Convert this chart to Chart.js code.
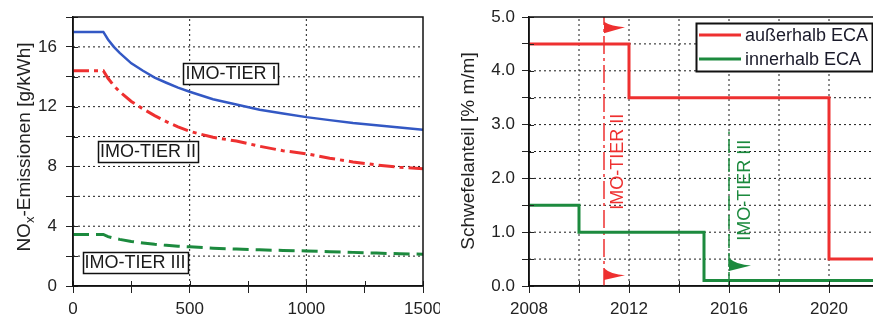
<!DOCTYPE html>
<html><head><meta charset="utf-8">
<script src="https://cdn.jsdelivr.net/npm/chart.js@4.4.1/dist/chart.umd.min.js"></script>
<style>
html,body{margin:0;padding:0;background:#fff;overflow:hidden;width:873px;height:321px;}
#wrapL{position:absolute;left:0;top:0;width:440px;height:321px;}
#wrapR{position:absolute;left:440px;top:0;width:460px;height:321px;}
canvas{display:block;}
</style></head><body>
<div id="wrapL"><canvas id="cL" width="440" height="321" style="width:440px;height:321px"></canvas></div>
<div id="wrapR"><canvas id="cR" width="460" height="321" style="width:460px;height:321px"></canvas></div>
<script>
// ---- Left chart data: NOx limits vs engine speed ----
const rpm      = [0, 130, 150, 175, 200, 250, 300, 350, 400, 450, 500, 600, 700, 800, 900, 1000, 1100, 1200, 1300, 1400, 1500];
const tierI    = [17.0, 17.0, 16.5, 16.0, 15.6, 14.9, 14.4, 13.95, 13.6, 13.27, 13.0, 12.5, 12.15, 11.8, 11.55, 11.3, 11.1, 10.9, 10.75, 10.6, 10.45];
const tierII   = [14.4, 14.4, 13.9, 13.4, 13.0, 12.35, 11.85, 11.4, 11.0, 10.65, 10.35, 9.95, 9.7, 9.35, 9.05, 8.85, 8.55, 8.3, 8.1, 7.95, 7.85];
const tierIII  = [3.45, 3.45, 3.3, 3.2, 3.12, 2.98, 2.88, 2.79, 2.72, 2.66, 2.62, 2.53, 2.47, 2.42, 2.38, 2.35, 2.3, 2.25, 2.2, 2.16, 2.13];
const tierNames = ['IMO-TIER I', 'IMO-TIER II', 'IMO-TIER III'];
const noxGrid  = [2, 4, 6, 8, 10, 12, 14, 16];
const rpmGrid  = [500, 1000];

// ---- Right chart data: sulphur content limits ----
const yearsOutside  = [2008, 2012, 2020, 2022];
const sulfurOutside = [4.5, 3.5, 0.5, 0.5];
const yearsInside   = [2008, 2010, 2015, 2022];
const sulfurInside  = [1.5, 1.0, 0.1, 0.1];
const seriesNames   = ['außerhalb ECA', 'innerhalb ECA'];
const tierIIYear  = 2011;
const tierIIIYear = 2016;
const xTickLabelsRight = [2008, 2012, 2016, 2020];
const sulfurGrid = [0.5, 1.0, 1.5, 2.0, 2.5, 3.0, 3.5, 4.0, 4.5];
const yearGrid   = [2010, 2012, 2014, 2016, 2018, 2020];

const FONT = "'Liberation Sans', Arial, Helvetica, sans-serif";
Chart.defaults.font.family = FONT;
Chart.defaults.animation = false;

const RED = '#ee3030', BLUE = '#3358c4', GREEN = '#1c8a3e', INK = '#222';

function pts(xs, ys){ return xs.map((x,i)=>({x:x, y:ys[i]})); }

// dotted grid lines drawn through the library as background line elements
function gridSets(hVals, xMin, xMax, vVals, yMin, yMax){
  const base = { borderColor: '#1a1a1a', borderWidth: 1, borderDash: [2,3], pointRadius: 0, fill: false, order: 50, tension: 0 };
  const out = [];
  hVals.forEach(v => out.push(Object.assign({ label: 'grid', data: [{x: xMin, y: v}, {x: xMax, y: v}] }, base)));
  vVals.forEach(v => out.push(Object.assign({ label: 'grid', data: [{x: v, y: yMin}, {x: v, y: yMax}] }, base)));
  return out;
}

function stepsOf(scale){
  const st = scale.options.ticks.stepSize, out = [];
  for (let k = 0; scale.min + k*st <= scale.max + 1e-9; k++) out.push(scale.min + k*st);
  return out;
}

function frameAndTicks(chart){
  const ctx = chart.ctx, a = chart.chartArea, x = chart.scales.x, y = chart.scales.y;
  ctx.save();
  ctx.fillStyle = INK;
  stepsOf(y).forEach(v=>{ const py = Math.round(y.getPixelForValue(v)); ctx.fillRect(a.left, py, 5, 1); });
  stepsOf(x).forEach(v=>{ const px = Math.round(x.getPixelForValue(v)); ctx.fillRect(px, a.bottom - 5, 1, 5); });
  ctx.setLineDash([]);
  ctx.strokeStyle = '#111'; ctx.lineWidth = 1.5;
  ctx.strokeRect(a.left, a.top, a.right-a.left, a.bottom-a.top);
  ctx.restore();
}

function boxedLabel(ctx, text, cx, cy){
  ctx.save();
  ctx.font = '18px ' + FONT;
  const w = ctx.measureText(text).width, h = 21;
  const bx = Math.round(cx - w/2 - 2) + 0.5, by = Math.round(cy - h/2) + 0.5;
  ctx.fillStyle = '#fff'; ctx.fillRect(bx, by, w+4, h);
  ctx.strokeStyle = '#111'; ctx.lineWidth = 1.5; ctx.setLineDash([]); ctx.strokeRect(bx, by, w+4, h);
  ctx.fillStyle = '#1a1a1a'; ctx.textAlign = 'center'; ctx.textBaseline = 'middle';
  ctx.fillText(text, cx, cy + 1);
  ctx.restore();
}

const leftPlugin = {
  id: 'leftDecor',
  afterDraw(chart){
    const ctx = chart.ctx, x = chart.scales.x, y = chart.scales.y;
    frameAndTicks(chart);
    const anchors = [[677, 14.23], [321, 9.0], [266, 1.6]];
    tierNames.forEach((t,i)=>boxedLabel(ctx, t, x.getPixelForValue(anchors[i][0]), y.getPixelForValue(anchors[i][1])));
    ctx.save();
    ctx.translate(23, 147);
    ctx.rotate(-Math.PI/2);
    ctx.fillStyle = INK; ctx.textBaseline = 'alphabetic'; ctx.textAlign = 'left';
    const big = '19px ' + FONT, small = '13px ' + FONT;
    ctx.font = big; const w1 = ctx.measureText('NO').width; const w3 = ctx.measureText('-Emissionen [g/kWh]').width;
    ctx.font = small; const w2 = ctx.measureText('x').width;
    let sx = -(w1+w2+w3)/2; const base = 6.8;
    ctx.font = big; ctx.fillText('NO', sx, base); sx += w1;
    ctx.font = small; ctx.fillText('x', sx, base + 4); sx += w2;
    ctx.font = big; ctx.fillText('-Emissionen [g/kWh]', sx, base);
    ctx.restore();
  }
};

function flag(ctx, x, yTop, yTip, yBot, w, color){
  ctx.save();
  ctx.fillStyle = color;
  ctx.beginPath();
  ctx.moveTo(x, yTop);
  ctx.quadraticCurveTo(x + w*0.35, yTip - 0.5, x + w, yTip);
  ctx.lineTo(x, yBot);
  ctx.closePath();
  ctx.fill();
  ctx.restore();
}

function vText(ctx, text, cx, cy, color){
  ctx.save();
  ctx.translate(cx, cy); ctx.rotate(-Math.PI/2);
  ctx.font = '18px ' + FONT; ctx.fillStyle = color;
  ctx.textAlign = 'center'; ctx.textBaseline = 'middle';
  ctx.fillText(text, 0, 1);
  ctx.restore();
}

const rightPlugin = {
  id: 'rightDecor',
  afterDraw(chart){
    const ctx = chart.ctx, x = chart.scales.x, y = chart.scales.y;
    frameAndTicks(chart);
    const X = v=>x.getPixelForValue(v), Y = v=>y.getPixelForValue(v);
    flag(ctx, X(tierIIYear), Y(4.91), Y(4.81), Y(4.70), 21, RED);
    flag(ctx, X(tierIIYear), Y(0.33), Y(0.20), Y(0.11), 21, RED);
    flag(ctx, X(tierIIIYear), Y(0.52), Y(0.38), Y(0.28), 22, GREEN);
    vText(ctx, tierNames[1], X(2011.54), Y(2.31), RED);
    vText(ctx, tierNames[2], X(2016.6), Y(1.78), GREEN);
    ctx.save();
    const lx = 256.5, ly = 23.5, lw = 176, lh = 48;
    ctx.fillStyle = '#fff'; ctx.fillRect(lx, ly, lw, lh);
    ctx.strokeStyle = '#111'; ctx.lineWidth = 2; ctx.setLineDash([]); ctx.strokeRect(lx, ly, lw, lh);
    const ds = chart.data.datasets;
    [[35, 0], [59, 1]].forEach(([yy, i])=>{
      ctx.fillStyle = ds[i].borderColor;
      ctx.fillRect(259, yy - 1.5, 42, 3);
      ctx.fillStyle = '#1a1a2a'; ctx.font = '18px ' + FONT; ctx.textAlign = 'left'; ctx.textBaseline = 'middle';
      ctx.fillText(seriesNames[i], 305, yy + 1);
    });
    ctx.restore();
    ctx.save();
    ctx.translate(29, 151); ctx.rotate(-Math.PI/2);
    ctx.font = '19px ' + FONT; ctx.fillStyle = INK; ctx.textAlign = 'center'; ctx.textBaseline = 'middle';
    ctx.fillText('Schwefelanteil [% m/m]', 0, 0);
    ctx.restore();
  }
};

function fixX(h){ return s=>{ s.height = h; s.paddingLeft = 0; s.paddingRight = 0; }; }
function fixY(w){ return s=>{ s.width = w; s.paddingTop = 0; s.paddingBottom = 0; }; }

const gridOpts = { drawOnChartArea: false, color: INK, tickColor: INK, tickLength: 7, lineWidth: 1 };

new Chart(document.getElementById('cL'), {
  type: 'line',
  data: { datasets: [
    { label: tierNames[0], data: pts(rpm, tierI), borderColor: BLUE, borderWidth: 2.5, pointRadius: 0, tension: 0, fill: false, order: 1 },
    { label: tierNames[1], data: pts(rpm, tierII), borderColor: RED, borderWidth: 3, borderDash: [16,5,4,5], pointRadius: 0, tension: 0, fill: false, order: 2 },
    { label: tierNames[2], data: pts(rpm, tierIII), borderColor: GREEN, borderWidth: 3, borderDash: [16,7], pointRadius: 0, tension: 0, fill: false, order: 3 }
  ].concat(gridSets(noxGrid, 0, 1500, rpmGrid, 0, 18)) },
  options: {
    responsive: false, animation: false,
    layout: { padding: { left: 0, right: 17, top: 17, bottom: 0 } },
    plugins: { legend: { display: false }, tooltip: { enabled: false } },
    scales: {
      x: { type: 'linear', min: 0, max: 1500, afterFit: fixX(35),
        ticks: { stepSize: 250, autoSkip: false, maxRotation: 0, padding: 6, color: INK, font: { size: 17 }, callback: v => v % 500 === 0 ? String(v) : '' },
        grid: gridOpts, border: { color: '#111', width: 1.5 } },
      y: { min: 0, max: 18, afterFit: fixY(73),
        ticks: { stepSize: 2, autoSkip: false, padding: 9, color: INK, font: { size: 17 }, callback: v => v % 4 === 0 ? String(v) : '' },
        grid: gridOpts, border: { color: '#111', width: 1.5 } }
    }
  },
  plugins: [leftPlugin]
});

new Chart(document.getElementById('cR'), {
  type: 'line',
  data: { datasets: [
    { label: seriesNames[0], data: pts(yearsOutside, sulfurOutside), stepped: 'before', borderColor: RED, borderWidth: 3, pointRadius: 0, fill: false, borderJoinStyle: 'miter', order: 1 },
    { label: seriesNames[1], data: pts(yearsInside, sulfurInside), stepped: 'before', borderColor: GREEN, borderWidth: 3, pointRadius: 0, fill: false, borderJoinStyle: 'miter', order: 2 },
    { label: 'TIER II', data: [{x: tierIIYear, y: 0}, {x: tierIIYear, y: 5}], borderColor: RED, borderWidth: 1.5, borderDash: [18,4,3,4], pointRadius: 0, fill: false, order: 3 },
    { label: 'TIER III', data: [{x: tierIIIYear, y: 0}, {x: tierIIIYear, y: 2.87}], borderColor: GREEN, borderWidth: 1.5, borderDash: [14,5], pointRadius: 0, fill: false, order: 4 }
  ].concat(gridSets(sulfurGrid, 2008, 2022, yearGrid, 0, 5)) },
  options: {
    responsive: false, animation: false,
    layout: { padding: { left: 0, right: 21, top: 17, bottom: 0 } },
    plugins: { legend: { display: false }, tooltip: { enabled: false } },
    scales: {
      x: { type: 'linear', min: 2008, max: 2022, afterFit: fixX(35),
        ticks: { stepSize: 2, autoSkip: false, maxRotation: 0, padding: 6, color: INK, font: { size: 17 }, callback: v => xTickLabelsRight.includes(v) ? String(v) : '' },
        grid: gridOpts, border: { color: '#111', width: 1.5 } },
      y: { min: 0, max: 5, afterFit: fixY(89),
        ticks: { stepSize: 0.5, autoSkip: false, padding: 7, color: INK, font: { size: 17 }, callback: v => Number.isInteger(v) ? v.toFixed(1) : '' },
        grid: gridOpts, border: { color: '#111', width: 1.5 } }
    }
  },
  plugins: [rightPlugin]
});
</script>
</body></html>
